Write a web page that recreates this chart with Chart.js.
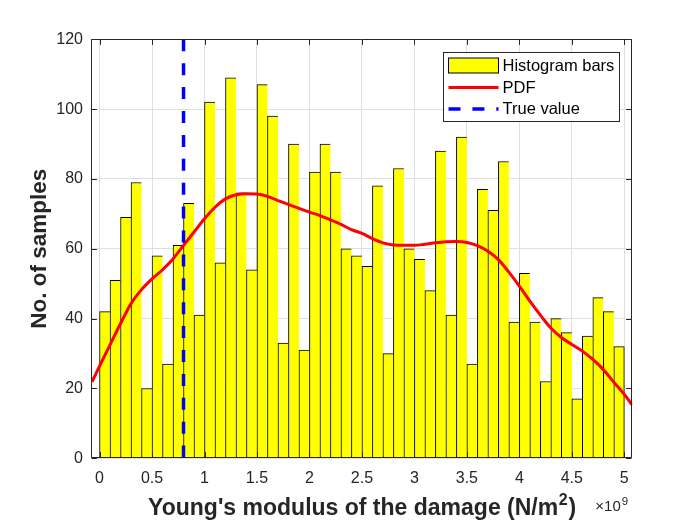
<!DOCTYPE html>
<html>
<head>
<meta charset="utf-8">
<script src="https://cdn.jsdelivr.net/npm/chart.js@4"></script>
<style>
  html, body { margin: 0; padding: 0; background: #ffffff; }
  #wrap { width: 699px; height: 524px; position: relative; }
</style>
</head>
<body>
<div id="wrap"><canvas id="c" width="699" height="524"></canvas></div>
<script>
// ---- Data ----
const binCenters = [0.05,0.15,0.25,0.35,0.45,0.55,0.65,0.75,0.85,0.95,
                    1.05,1.15,1.25,1.35,1.45,1.55,1.65,1.75,1.85,1.95,
                    2.05,2.15,2.25,2.35,2.45,2.55,2.65,2.75,2.85,2.95,
                    3.05,3.15,3.25,3.35,3.45,3.55,3.65,3.75,3.85,3.95,
                    4.05,4.15,4.25,4.35,4.45,4.55,4.65,4.75,4.85,4.95];
const binCounts = [42,51,69,79,20,58,27,61,73,41,
                   102,56,109,76,54,107,98,33,90,31,
                   82,90,82,60,58,55,78,30,83,60,
                   57,48,88,41,92,27,77,71,85,39,
                   53,39,22,40,36,17,35,46,42,32];
const pdfX = [-0.072,0.0,0.1,0.2,0.3,0.4,0.5,0.6,0.7,0.8,0.9,1.0,1.1,1.2,1.3,1.4,1.5,1.6,1.7,1.8,1.9,
              2.0,2.1,2.2,2.3,2.4,2.5,2.6,2.7,2.8,2.9,3.0,3.1,3.2,3.3,3.4,3.5,3.6,3.7,3.8,3.9,
              4.0,4.1,4.2,4.3,4.4,4.5,4.6,4.7,4.8,4.9,5.0,5.076];
const pdfY = [21.9,26.4,32.5,38.6,44.3,48.3,51.4,54.0,57.1,61.0,64.8,68.6,71.9,74.3,75.5,75.8,75.7,75.0,73.8,72.7,71.6,
              70.5,69.5,68.3,67.0,65.5,64.4,62.9,61.7,61.1,61.0,61.0,61.3,61.7,62.0,62.1,61.8,60.9,59.3,56.9,53.3,
              49.3,45.0,41.0,37.3,34.6,32.6,30.7,28.3,25.4,21.8,18.3,15.2];
const trueValue = 0.8;
const trueLineY = [120, 0];
const xTickValues = [0,0.5,1,1.5,2,2.5,3,3.5,4,4.5,5];
const xTickLabels = ['0','0.5','1','1.5','2','2.5','3','3.5','4','4.5','5'];
const yTickValues = [0,20,40,60,80,100,120];
const yTickLabels = ['0','20','40','60','80','100','120'];
const xRange = [-0.072, 5.076];
const yRange = [0, 120];
const xTitleMain = "Young's modulus of the damage (N/m";
const xTitleSup = "2";
const xTitleEnd = ")";
const yTitle = "No. of samples";
const xExponentBase = "\u00D710";
const xExponentPow = "9";
const legendLabels = ['Histogram bars', 'PDF', 'True value'];

// ---- Styles ----
const FONT = "'Liberation Sans', Arial, Helvetica, sans-serif";
const AXIS_COLOR = '#262626';
const GRID_COLOR = '#dfdfdf';
const BAR_COLOR = '#ffff00';
const PDF_COLOR = '#ff0000';
const TRUE_COLOR = '#0000ff';
const DASH = [12, 11.9];

const barData = binCenters.map((x, i) => ({x: x, y: binCounts[i]}));
const pdfData = pdfX.map((x, i) => ({x: x, y: pdfY[i]}));
const trueData = trueLineY.map(y => ({x: trueValue, y: y}));

const frame = {
  id: 'frame',
  afterDatasetsDraw(chart) {
    const ctx = chart.ctx, a = chart.chartArea;
    const xs = chart.scales.x, ys = chart.scales.y;
    const L = Math.round(a.left) - 0.5, R = Math.round(a.right) - 0.5;
    const T = Math.round(a.top) + 0.5, B = Math.round(a.bottom) - 0.5;
    const tl = 5.4;
    ctx.save();
    ctx.strokeStyle = AXIS_COLOR;
    ctx.lineWidth = 1;
    ctx.beginPath();
    ctx.rect(L, T, R - L, B - T);
    xTickValues.forEach(v => {
      const p = Math.round(xs.getPixelForValue(v)) + 0.5;
      ctx.moveTo(p, B); ctx.lineTo(p, B - tl);
      ctx.moveTo(p, T); ctx.lineTo(p, T + tl);
    });
    yTickValues.forEach(v => {
      const p = Math.round(ys.getPixelForValue(v)) + 0.5;
      ctx.moveTo(L, p); ctx.lineTo(L + tl, p);
      ctx.moveTo(R, p); ctx.lineTo(R - tl, p);
    });
    ctx.stroke();

    // legend
    const bx = Math.round(a.right - 189) + 0.5, by = Math.round(a.top + 13) + 0.5;
    const bw = 176, bh = 69;
    ctx.fillStyle = '#ffffff';
    ctx.fillRect(bx, by, bw, bh);
    ctx.strokeStyle = AXIS_COLOR;
    ctx.strokeRect(bx, by, bw, bh);
    const sx0 = bx + 5, sx1 = bx + 55;
    const rows = [by + 13, by + 35, by + 56.5];
    ctx.fillStyle = BAR_COLOR;
    ctx.fillRect(sx0, rows[0] - 7.5, 50, 15);
    ctx.strokeStyle = '#000000';
    ctx.strokeRect(sx0, rows[0] - 7.5, 50, 15);
    ctx.beginPath();
    ctx.strokeStyle = PDF_COLOR; ctx.lineWidth = 3;
    ctx.moveTo(sx0, rows[1]); ctx.lineTo(sx1, rows[1]); ctx.stroke();
    ctx.beginPath();
    ctx.strokeStyle = TRUE_COLOR; ctx.lineWidth = 3.5; ctx.setLineDash(DASH);
    ctx.moveTo(sx0, rows[2]); ctx.lineTo(sx1, rows[2]); ctx.stroke();
    ctx.setLineDash([]);
    ctx.fillStyle = '#000000';
    ctx.font = '16.5px ' + FONT;
    ctx.textBaseline = 'middle';
    ctx.textAlign = 'left';
    legendLabels.forEach((t, i) => ctx.fillText(t, sx1 + 4, rows[i] + 0.5));
    ctx.restore();
  },
  afterDraw(chart) {
    const ctx = chart.ctx, a = chart.chartArea;
    ctx.save();
    ctx.fillStyle = AXIS_COLOR;
    // x title
    const f1 = 'bold 23px ' + FONT, f2 = 'bold 16px ' + FONT;
    ctx.font = f1;
    const w1 = ctx.measureText(xTitleMain).width;
    const w3 = ctx.measureText(xTitleEnd).width;
    ctx.font = f2;
    const w2 = ctx.measureText(xTitleSup).width + 1.5;
    const total = w1 + w2 + w3;
    let x0 = (a.left + a.right) / 2 - total / 2;
    const base = 515;
    ctx.textBaseline = 'alphabetic';
    ctx.textAlign = 'left';
    ctx.font = f1; ctx.fillText(xTitleMain, x0, base);
    ctx.font = f2; ctx.fillText(xTitleSup, x0 + w1 + 0.5, base - 10);
    ctx.font = f1; ctx.fillText(xTitleEnd, x0 + w1 + w2, base);
    // exponent
    ctx.font = '15px ' + FONT;
    const ex = a.right - 37;
    ctx.fillText(xExponentBase, ex, 511);
    const we = ctx.measureText(xExponentBase).width;
    ctx.font = '11.5px ' + FONT;
    ctx.fillText(xExponentPow, ex + we + 1, 505);
    // y title
    ctx.translate(40, (a.top + a.bottom) / 2);
    ctx.rotate(-Math.PI / 2);
    ctx.font = 'bold 22.5px ' + FONT;
    ctx.textAlign = 'center';
    ctx.textBaseline = 'middle';
    ctx.fillText(yTitle, 0, 0);
    ctx.restore();
  }
};

new Chart(document.getElementById('c'), {
  type: 'bar',
  data: {
    datasets: [
      {
        type: 'line', label: legendLabels[2], data: trueData,
        borderColor: TRUE_COLOR, borderWidth: 3.5, borderDash: DASH,
        pointRadius: 0, fill: false, order: 1
      },
      {
        type: 'line', label: legendLabels[1], data: pdfData,
        borderColor: PDF_COLOR, borderWidth: 3, pointRadius: 0,
        cubicInterpolationMode: 'monotone', fill: false, order: 2
      },
      {
        type: 'bar', label: legendLabels[0], data: barData,
        backgroundColor: BAR_COLOR, borderColor: '#000000',
        borderWidth: (c) => ({left: 1, top: 1, right: c.dataIndex === binCounts.length - 1 ? 1 : 0, bottom: 0}),
        borderSkipped: false,
        barPercentage: 1, categoryPercentage: 1, order: 3
      }
    ]
  },
  options: {
    responsive: false,
    animation: false,
    devicePixelRatio: 1,
    layout: { padding: { left: 0, top: 39.3, right: 66.7, bottom: 0 } },
    plugins: { legend: { display: false }, tooltip: { enabled: false }, title: { display: false } },
    scales: {
      x: {
        type: 'linear', min: xRange[0], max: xRange[1], offset: false,
        grid: { color: GRID_COLOR, drawTicks: false, offset: false },
        border: { display: false },
        afterBuildTicks: (s) => { s.ticks = xTickValues.map(v => ({value: v})); },
        afterFit: (s) => { s.height = 65.7; },
        ticks: {
          color: AXIS_COLOR, padding: 11, maxRotation: 0, autoSkip: false,
          font: { family: FONT, size: 16 },
          callback: (v, i) => xTickLabels[i]
        }
      },
      y: {
        type: 'linear', min: yRange[0], max: yRange[1],
        grid: { color: GRID_COLOR, drawTicks: false },
        border: { display: false },
        afterBuildTicks: (s) => { s.ticks = yTickValues.map(v => ({value: v})); },
        afterFit: (s) => { s.width = 92; },
        ticks: {
          color: AXIS_COLOR, padding: 9, autoSkip: false,
          font: { family: FONT, size: 16 },
          callback: (v, i) => yTickLabels[i]
        }
      }
    }
  },
  plugins: [frame]
});
</script>
</body>
</html>
